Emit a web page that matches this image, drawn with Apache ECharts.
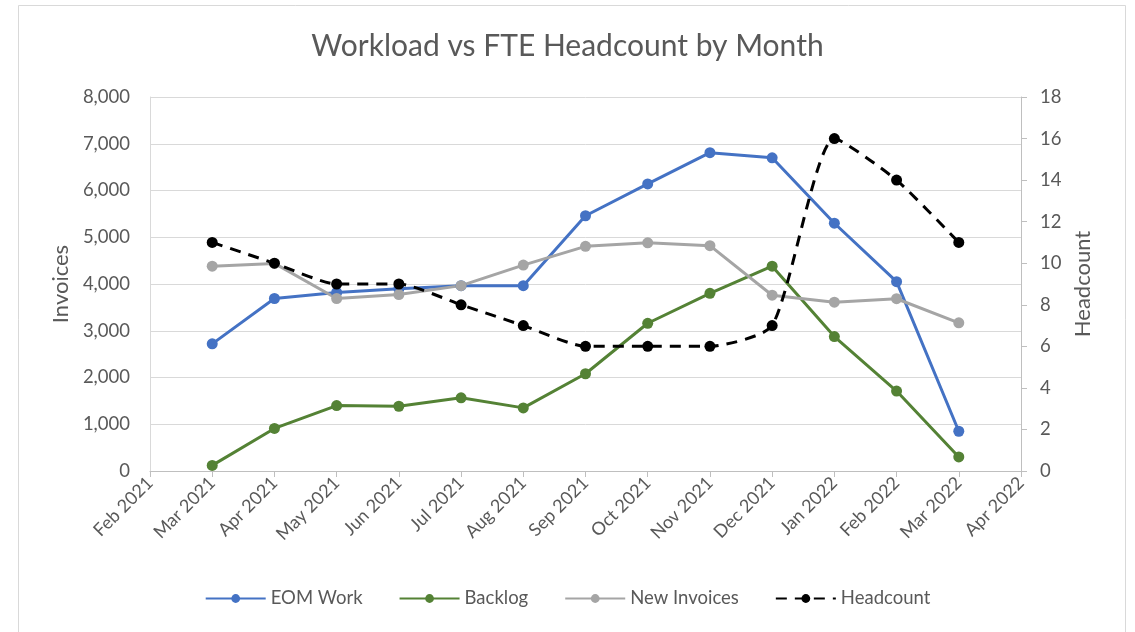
<!DOCTYPE html>
<html>
<head>
<meta charset="utf-8">
<script src="https://cdn.jsdelivr.net/npm/echarts@6/dist/echarts.min.js"></script>
<style>
  html, body { margin: 0; padding: 0; background: #fff; }
  #chart { width: 1135px; height: 632px; }
</style>
</head>
<body>
<div id="chart"></div>
<script>
// Month categories (first and last are empty padding months on the axis)
const months = ['Feb 2021', 'Mar 2021', 'Apr 2021', 'May 2021', 'Jun 2021', 'Jul 2021', 'Aug 2021',
  'Sep 2021', 'Oct 2021', 'Nov 2021', 'Dec 2021', 'Jan 2022', 'Feb 2022', 'Mar 2022', 'Apr 2022'];

// Invoice counts (left axis)
const eomWork     = [null, 2720, 3690, 3820, 3900, 3965, 3965, 5460, 6140, 6810, 6700, 5300, 4050, 850, null];
const backlog     = [null, 120, 910, 1400, 1385, 1565, 1350, 2080, 3160, 3800, 4380, 2875, 1710, 300, null];
const newInvoices = [null, 4380, 4440, 3690, 3775, 3965, 4405, 4805, 4880, 4820, 3760, 3610, 3685, 3170, null];

// FTE headcount (right axis)
const headcount   = [null, 11, 10, 9, 9, 8, 7, 6, 6, 6, 7, 16, 14, 11, null];

const FONT = 'Lato, "Noto Sans", sans-serif';
const TEXT = '#595959';

const chart = echarts.init(document.getElementById('chart'), null, { renderer: 'canvas' });

function lineSeries(name, data, color, extra) {
  return Object.assign({
    name: name,
    type: 'line',
    data: data,
    symbol: 'circle',
    symbolSize: 11,
    showSymbol: true,
    itemStyle: { color: color },
    lineStyle: { color: color, width: 3 },
    emphasis: { disabled: true },
    animation: false
  }, extra || {});
}

chart.setOption({
  backgroundColor: '#ffffff',
  textStyle: { fontFamily: FONT },
  graphic: [{
    type: 'rect',
    shape: { x: 18.5, y: 5.5, width: 1107, height: 700 },
    style: { fill: 'none', stroke: '#d9d9d9', lineWidth: 1 },
    silent: true
  }],
  title: {
    text: 'Workload vs FTE Headcount by Month',
    left: 'center',
    top: 26,
    textStyle: { fontFamily: FONT, fontSize: 30, fontWeight: 'normal', color: TEXT }
  },
  legend: {
    bottom: 19,
    left: 'center',
    itemWidth: 60,
    itemHeight: 11,
    itemGap: 36,
    textStyle: { fontFamily: FONT, fontSize: 18.5, color: TEXT },
    data: ['EOM Work', 'Backlog', 'New Invoices', 'Headcount']
  },
  grid: { left: 150, right: 114, top: 97, bottom: 161, containLabel: false },
  xAxis: {
    type: 'category',
    data: months,
    boundaryGap: false,
    axisLine: { lineStyle: { color: '#bfbfbf', width: 1 } },
    axisTick: { show: true, length: 6, lineStyle: { color: '#bfbfbf' } },
    axisLabel: { rotate: 45, fontSize: 18, color: TEXT, margin: 9, interval: 0, fontFamily: FONT },
    splitLine: { show: false }
  },
  yAxis: [{
    type: 'value',
    min: 0, max: 8000, interval: 1000,
    name: 'Invoices',
    nameLocation: 'middle',
    nameGap: 74,
    nameTextStyle: { fontSize: 22, color: TEXT, fontFamily: FONT },
    axisLine: { show: true, lineStyle: { color: '#d9d9d9' } },
    axisTick: { show: false },
    axisLabel: {
      fontSize: 18.5, color: TEXT, margin: 20, fontFamily: FONT,
      formatter: v => v.toLocaleString('en-US')
    },
    splitLine: { lineStyle: { color: '#d9d9d9', width: 1 } }
  }, {
    type: 'value',
    min: 0, max: 18, interval: 2,
    name: 'Headcount',
    nameLocation: 'middle',
    nameGap: 50,
    nameTextStyle: { fontSize: 22, color: TEXT, fontFamily: FONT },
    axisLine: { show: true, lineStyle: { color: '#bfbfbf' } },
    axisTick: { show: true, length: 6, lineStyle: { color: '#bfbfbf' } },
    axisLabel: { fontSize: 18.5, color: TEXT, margin: 19, fontFamily: FONT },
    splitLine: { show: false }
  }],
  series: [
    lineSeries('EOM Work', eomWork, '#4472C4'),
    lineSeries('Backlog', backlog, '#548235'),
    lineSeries('New Invoices', newInvoices, '#A5A5A5'),
    lineSeries('Headcount', headcount, '#000000', {
      yAxisIndex: 1,
      smooth: 0.2,
      lineStyle: { color: '#000000', width: 3, type: [11, 8] }
    })
  ]
});
</script>
</body>
</html>
